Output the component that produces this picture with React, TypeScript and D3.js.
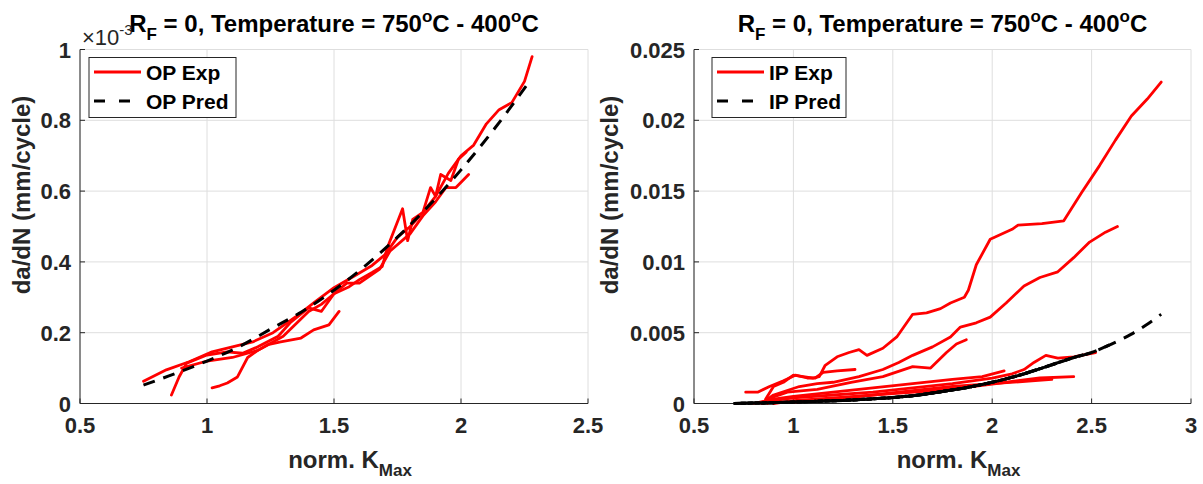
import React from 'react';
import * as d3 from 'd3';

type Pt = [number, number];

// ---- OP panel (left), rates in units of 1e-3 mm/cycle ----
const opXTicks = [0.5, 1, 1.5, 2, 2.5];
const opYTicks = [0, 0.2, 0.4, 0.6, 0.8, 1];

const opExp1: Pt[] = [
  [0.75, 0.063], [0.84, 0.095], [0.93, 0.118], [1.02, 0.146], [1.1, 0.16], [1.18, 0.174],
  [1.26, 0.2], [1.35, 0.245], [1.42, 0.284], [1.5, 0.327], [1.58, 0.36], [1.65, 0.39],
  [1.7, 0.42], [1.75, 0.47], [1.8, 0.5], [1.85, 0.54], [1.9, 0.585], [1.95, 0.65],
  [2.0, 0.7], [2.05, 0.73], [2.1, 0.79], [2.15, 0.83], [2.2, 0.85], [2.25, 0.91], [2.28, 0.98],
];
const opExp2: Pt[] = [
  [0.86, 0.024], [0.89, 0.075], [0.92, 0.114], [1.0, 0.137], [1.08, 0.146], [1.14, 0.142],
  [1.2, 0.16], [1.28, 0.19], [1.33, 0.23], [1.4, 0.27], [1.45, 0.26], [1.5, 0.31], [1.56, 0.33],
  [1.6, 0.35], [1.65, 0.37], [1.69, 0.387], [1.71, 0.44], [1.77, 0.55], [1.79, 0.46],
  [1.81, 0.52], [1.85, 0.54], [1.88, 0.61], [1.9, 0.585], [1.92, 0.647], [1.96, 0.63],
  [1.99, 0.69], [2.02, 0.71],
];
const opExp3: Pt[] = [
  [0.9, 0.1], [1.0, 0.12], [1.1, 0.13], [1.2, 0.15], [1.3, 0.19], [1.4, 0.26], [1.45, 0.28],
  [1.5, 0.31], [1.55, 0.34], [1.6, 0.34], [1.64, 0.36], [1.68, 0.38], [1.72, 0.43], [1.8, 0.48],
  [1.85, 0.53], [1.9, 0.57], [1.94, 0.61], [1.98, 0.61], [2.03, 0.647],
];
const opExp4: Pt[] = [
  [1.02, 0.044], [1.05, 0.05], [1.08, 0.058], [1.12, 0.075], [1.16, 0.13], [1.2, 0.15],
  [1.24, 0.166], [1.29, 0.174], [1.37, 0.185], [1.42, 0.208], [1.48, 0.222], [1.52, 0.26],
];
const opPred: Pt[] = [
  [0.75, 0.052], [0.85, 0.078], [1.0, 0.12], [1.125, 0.16], [1.25, 0.21], [1.375, 0.26],
  [1.5, 0.32], [1.625, 0.39], [1.75, 0.47], [1.875, 0.56], [2.0, 0.66], [2.125, 0.77], [2.27, 0.91],
];
const opPredEnds = [2.27];

// ---- IP panel (right), rates in mm/cycle ----
const ipXTicks = [0.5, 1, 1.5, 2, 2.5, 3];
const ipYTicks = [0, 0.005, 0.01, 0.015, 0.02, 0.025];

const ipExp1: Pt[] = [
  [0.86, 0.0003], [0.9, 0.0012], [0.95, 0.0015], [1.0, 0.002], [1.05, 0.0019], [1.1, 0.0018],
  [1.13, 0.0019], [1.16, 0.0027], [1.22, 0.0033], [1.28, 0.0036], [1.33, 0.0038], [1.37, 0.0034],
  [1.45, 0.0039], [1.52, 0.0047], [1.6, 0.0063], [1.67, 0.0064], [1.74, 0.0067], [1.79, 0.0071],
  [1.86, 0.0075], [1.88, 0.008], [1.92, 0.0098], [1.99, 0.0116], [2.1, 0.0123], [2.13, 0.0126],
  [2.25, 0.0127], [2.36, 0.0129], [2.45, 0.0149], [2.54, 0.0168], [2.62, 0.0186], [2.7, 0.0203],
  [2.78, 0.0215], [2.85, 0.0227],
];
const ipExp2: Pt[] = [
  [0.84, 0.0], [0.9, 0.0006], [1.03, 0.0012], [1.12, 0.0014], [1.2, 0.0015], [1.33, 0.0019],
  [1.45, 0.0024], [1.53, 0.0029], [1.6, 0.0034], [1.7, 0.004], [1.79, 0.0047], [1.84, 0.0054],
  [1.92, 0.0057], [1.99, 0.0061], [2.07, 0.0071], [2.16, 0.0083], [2.24, 0.0089], [2.33, 0.0093],
  [2.41, 0.0103], [2.49, 0.0114], [2.57, 0.0121], [2.63, 0.0125],
];
const ipExp3: Pt[] = [
  [0.87, 0.0], [0.9, 0.00046], [0.97, 0.0008], [1.12, 0.001], [1.29, 0.0015], [1.45, 0.0019],
  [1.6, 0.0026], [1.69, 0.0025], [1.77, 0.0036], [1.82, 0.0042], [1.87, 0.0045],
];
const ipExp4: Pt[] = [
  [0.76, 0.0008], [0.82, 0.0008], [0.88, 0.0012], [0.95, 0.0016], [1.01, 0.002], [1.07, 0.0018],
  [1.11, 0.0018], [1.15, 0.0022], [1.22, 0.0023], [1.31, 0.0024],
];
const ipExp5: Pt[] = [
  [0.85, 0.0], [0.9, 0.0002], [1.0, 0.0004], [1.2, 0.0006], [1.4, 0.0008], [1.6, 0.0011],
  [1.8, 0.0014], [2.0, 0.0018], [2.1, 0.0021], [2.16, 0.0024], [2.21, 0.0029], [2.27, 0.0034],
  [2.33, 0.0032], [2.41, 0.0033], [2.52, 0.0036],
];
const ipExp6: Pt[] = [
  [0.9, 0.0], [1.0, 0.0002], [1.2, 0.0004], [1.5, 0.0007], [1.7, 0.0009], [1.9, 0.0012],
  [2.07, 0.0015], [2.24, 0.0018], [2.41, 0.0019],
];
const ipExp7: Pt[] = [
  [0.8, 0.0], [0.9, 0.0003], [1.0, 0.0005], [1.2, 0.0008], [1.4, 0.0011], [1.6, 0.0014],
  [1.8, 0.0017], [1.95, 0.0019], [2.06, 0.0023],
];
const ipExp8: Pt[] = [
  [1.0, 0.0001], [1.2, 0.0003], [1.4, 0.0006], [1.6, 0.0009], [1.8, 0.0012], [2.0, 0.0014],
  [2.2, 0.0016], [2.3, 0.0017],
];
const ipPred: Pt[] = [
  [0.7, 0], [0.8, 0.00003], [0.9, 0.00006], [1.0, 0.0001], [1.1, 0.00015], [1.25, 0.00022],
  [1.4, 0.00033], [1.5, 0.00042], [1.6, 0.00055], [1.75, 0.00085], [1.9, 0.0012], [2.0, 0.0015],
  [2.1, 0.00185], [2.25, 0.0025], [2.4, 0.0032], [2.5, 0.0036], [2.6, 0.0042], [2.7, 0.0049],
  [2.78, 0.0056], [2.85, 0.0063],
];
const ipPredEnds = [2.85, 2.63, 2.52, 2.41, 2.3, 2.06];

const FONT = '"Liberation Sans", Arial, Helvetica, sans-serif';
const TOP = 49.5;
const BOTTOM = 403.5;

interface PanelProps {
  left: number;
  right: number;
  xDomain: [number, number];
  yDomain: [number, number];
  xTicks: number[];
  yTicks: number[];
  exp: Pt[][];
  pred: Pt[];
  predEnds: number[];
  legendX: number;
  legendW: number;
  yLabelX: number;
  expName: string;
  predName: string;
  multiplier?: boolean;
}

function Panel(p: PanelProps) {
  const x = d3.scaleLinear().domain(p.xDomain).range([p.left, p.right]);
  const y = d3.scaleLinear().domain(p.yDomain).range([BOTTOM, TOP]);
  const lineGen = d3.line<Pt>().x(d => x(d[0])).y(d => y(d[1]));
  const predGen = d3.line<Pt>().x(d => x(d[0])).y(d => y(d[1])).curve(d3.curveMonotoneX);
  const cx = (p.left + p.right) / 2;
  const grid = '#dedede';
  const axis = '#262626';
  const lx = p.legendX;

  return (
    <g fontFamily={FONT} fontWeight="bold">
      {/* grid */}
      {p.xTicks.map(t => (
        <line key={'gx' + t} x1={x(t)} x2={x(t)} y1={TOP} y2={BOTTOM} stroke={grid} strokeWidth={1} />
      ))}
      {p.yTicks.map(t => (
        <line key={'gy' + t} x1={p.left} x2={p.right} y1={y(t)} y2={y(t)} stroke={grid} strokeWidth={1} />
      ))}
      {/* axes */}
      <line x1={p.left} x2={p.right} y1={BOTTOM} y2={BOTTOM} stroke={axis} strokeWidth={1} />
      <line x1={p.left} x2={p.left} y1={TOP} y2={BOTTOM} stroke={axis} strokeWidth={1} />
      {p.xTicks.map(t => (
        <g key={'tx' + t}>
          <line x1={x(t)} x2={x(t)} y1={BOTTOM} y2={BOTTOM - 5} stroke={axis} />
          <text x={x(t)} y={BOTTOM + 29} textAnchor="middle" fontSize={22} fill="#262626">
            {String(t)}
          </text>
        </g>
      ))}
      {p.yTicks.map(t => (
        <g key={'ty' + t}>
          <line x1={p.left} x2={p.left + 5} y1={y(t)} y2={y(t)} stroke={axis} />
          <text x={p.left - 9} y={y(t) + 8} textAnchor="end" fontSize={22} fill="#262626">
            {String(t)}
          </text>
        </g>
      ))}
      {/* data */}
      {p.exp.map((c, i) => (
        <path key={'e' + i} d={lineGen(c) || ''} fill="none" stroke="#ff0000" strokeWidth={2.8}
          strokeLinejoin="round" strokeLinecap="round" />
      ))}
      {p.predEnds.map((end, i) => (
        <path key={'p' + i} d={predGen(p.pred.filter(d => d[0] <= end + 1e-9)) || ''} fill="none"
          stroke="#000" strokeWidth={3} strokeDasharray="12 9" strokeDashoffset={i * 7} />
      ))}
      {/* title */}
      <text x={cx} y={32} textAnchor="middle" fontSize={24} fill="#000">
        R<tspan dy={8} fontSize={17}>F</tspan>
        <tspan dy={-8}> = 0, Temperature = 750</tspan>
        <tspan dy={-10} fontSize={17}>o</tspan>
        <tspan dy={10}>C - 400</tspan>
        <tspan dy={-10} fontSize={17}>o</tspan>
        <tspan dy={10}>C</tspan>
      </text>
      {p.multiplier && (
        <text x={p.left + 2} y={45} fontSize={22} fontWeight="normal" fill="#262626">
          ×10<tspan dy={-10} fontSize={15}>-3</tspan>
        </text>
      )}
      {/* axis labels */}
      <text x={cx + 16} y={468} textAnchor="middle" fontSize={24} fill="#262626">
        norm. K<tspan dy={8} fontSize={17}>Max</tspan>
      </text>
      <text transform={`translate(${p.yLabelX},195) rotate(-90)`} textAnchor="middle" fontSize={24} fill="#262626">
        da/dN (mm/cycle)
      </text>
      {/* legend */}
      <rect x={lx} y={57.5} width={p.legendW} height={60} fill="#fff" stroke="#262626" strokeWidth={1} />
      <line x1={lx + 5} x2={lx + 52} y1={72} y2={72} stroke="#ff0000" strokeWidth={3} />
      <text x={lx + 57} y={80} fontSize={21} fill="#000">{p.expName}</text>
      <line x1={lx + 5} x2={lx + 52} y1={101} y2={101} stroke="#000" strokeWidth={3} strokeDasharray="11 14" />
      <text x={lx + 57} y={109} fontSize={21} fill="#000">{p.predName}</text>
    </g>
  );
}

export default function App() {
  return (
    <div style={{ position: 'absolute', left: 0, top: 0 }}>
      <svg width={1203} height={484} style={{ display: 'block', background: '#fff' }}>
        <Panel left={80} right={588} xDomain={[0.5, 2.5]} yDomain={[0, 1]}
          xTicks={opXTicks} yTicks={opYTicks}
          exp={[opExp1, opExp2, opExp3, opExp4]} pred={opPred} predEnds={opPredEnds}
          legendX={89} legendW={147} yLabelX={30} expName="OP Exp" predName="OP Pred" multiplier />
        <Panel left={694} right={1191} xDomain={[0.5, 3]} yDomain={[0, 0.025]}
          xTicks={ipXTicks} yTicks={ipYTicks}
          exp={[ipExp1, ipExp2, ipExp3, ipExp4, ipExp5, ipExp6, ipExp7, ipExp8]} pred={ipPred} predEnds={ipPredEnds}
          legendX={712} legendW={134} yLabelX={618} expName="IP Exp" predName="IP Pred" />
      </svg>
    </div>
  );
}
